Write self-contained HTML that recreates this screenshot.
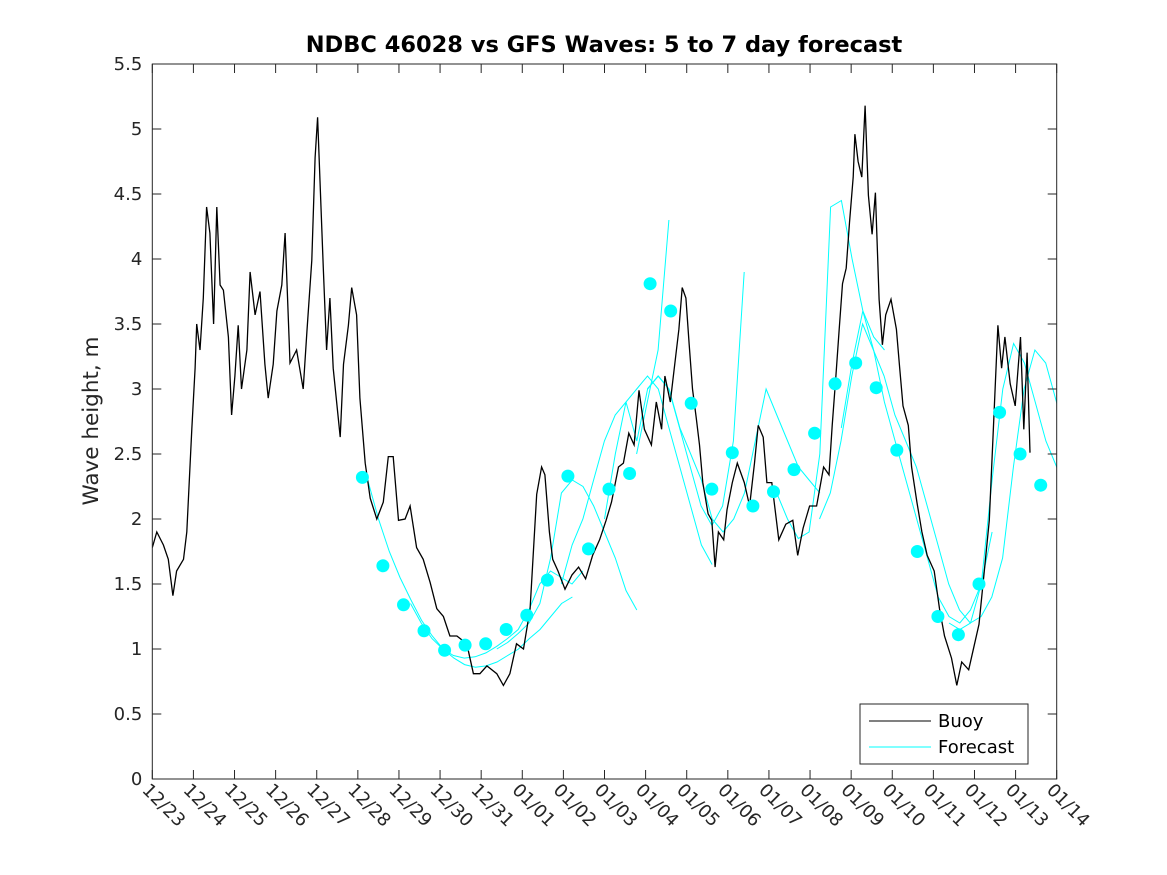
<!DOCTYPE html>
<html><head><meta charset="utf-8">
<style>
html,body{margin:0;padding:0;background:#fff;}
svg{display:block;font-family:"DejaVu Sans","Liberation Sans",sans-serif;}
</style></head>
<body>
<svg id="chart" width="1167" height="875" viewBox="0 0 1167 875" xmlns="http://www.w3.org/2000/svg">
<rect width="1167" height="875" fill="#fff"/>
<text x="604" y="52" text-anchor="middle" font-size="22.5" font-weight="bold" fill="#000">NDBC 46028 vs GFS Waves: 5 to 7 day forecast</text>
<text transform="translate(98,421) rotate(-90)" text-anchor="middle" font-size="21.5" fill="#262626">Wave height, m</text>
<g id="plot"></g>
<g>
<rect x="860" y="704" width="168" height="60" fill="#fff" stroke="#262626" stroke-width="1"/>
<line x1="869" y1="721" x2="931" y2="721" stroke="#000" stroke-width="1"/>
<text x="938" y="727" font-size="18" fill="#000">Buoy</text>
<line x1="869" y1="747" x2="931" y2="747" stroke="#00ffff" stroke-width="1"/>
<text x="938" y="753" font-size="18" fill="#000">Forecast</text>
</g>
</svg>
<script>
const xTickLabels = ["12/23","12/24","12/25","12/26","12/27","12/28","12/29","12/30","12/31","01/01","01/02","01/03","01/04","01/05","01/06","01/07","01/08","01/09","01/10","01/11","01/12","01/13","01/14"];
const yTicks = [0,0.5,1,1.5,2,2.5,3,3.5,4,4.5,5,5.5];
const yTickLabels = ["0","0.5","1","1.5","2","2.5","3","3.5","4","4.5","5","5.5"];
const buoyDays = [0,0.11,0.27,0.39,0.50,0.59,0.76,0.84,0.96,1.04,1.08,1.16,1.24,1.32,1.40,1.49,1.57,1.65,1.73,1.85,1.93,2.01,2.09,2.17,2.30,2.38,2.50,2.62,2.74,2.82,2.94,3.03,3.15,3.23,3.35,3.51,3.67,3.76,3.88,3.96,4.02,4.08,4.16,4.24,4.32,4.40,4.57,4.65,4.77,4.85,4.97,5.05,5.18,5.30,5.46,5.62,5.74,5.86,5.99,6.15,6.27,6.43,6.59,6.76,6.92,7.08,7.24,7.41,7.65,7.81,7.97,8.14,8.38,8.54,8.70,8.86,9.03,9.19,9.35,9.47,9.55,9.66,9.74,9.87,10.04,10.21,10.37,10.54,10.71,10.88,11.04,11.17,11.34,11.46,11.59,11.72,11.84,11.97,12.14,12.26,12.39,12.47,12.60,12.72,12.81,12.89,12.98,13.06,13.14,13.23,13.31,13.39,13.52,13.61,13.69,13.77,13.90,13.98,14.11,14.23,14.40,14.53,14.65,14.74,14.86,14.95,15.07,15.24,15.41,15.58,15.70,15.83,15.99,16.16,16.33,16.46,16.54,16.63,16.71,16.79,16.88,16.96,17.05,17.09,17.17,17.26,17.34,17.42,17.51,17.59,17.68,17.76,17.84,17.97,18.10,18.18,18.26,18.39,18.47,18.60,18.72,18.85,19.02,19.15,19.27,19.44,19.57,19.69,19.86,19.98,20.11,20.24,20.36,20.45,20.57,20.66,20.74,20.87,20.99,21.12,21.20,21.28,21.35];
const buoyValues = [1.78,1.9,1.8,1.69,1.41,1.6,1.69,1.9,2.69,3.16,3.5,3.3,3.7,4.4,4.2,3.5,4.4,3.8,3.76,3.4,2.8,3.1,3.49,3.0,3.3,3.9,3.57,3.75,3.19,2.93,3.19,3.6,3.8,4.2,3.2,3.3,3.0,3.44,3.99,4.78,5.09,4.6,3.93,3.3,3.7,3.16,2.63,3.19,3.49,3.78,3.57,2.93,2.43,2.16,2.0,2.13,2.48,2.48,1.99,2.0,2.1,1.78,1.69,1.51,1.31,1.25,1.1,1.1,1.04,0.81,0.81,0.87,0.81,0.72,0.81,1.04,1.0,1.31,2.19,2.4,2.34,1.9,1.69,1.6,1.46,1.57,1.63,1.54,1.72,1.84,1.99,2.13,2.4,2.43,2.66,2.57,2.99,2.69,2.57,2.9,2.69,3.1,2.9,3.22,3.46,3.78,3.7,3.34,3.0,2.78,2.57,2.28,2.04,1.99,1.63,1.9,1.84,2.07,2.28,2.43,2.28,2.1,2.43,2.72,2.63,2.28,2.28,1.84,1.96,1.99,1.72,1.93,2.1,2.1,2.4,2.34,2.72,3.1,3.46,3.81,3.93,4.28,4.63,4.96,4.75,4.63,5.18,4.49,4.19,4.51,3.69,3.34,3.57,3.69,3.46,3.16,2.87,2.72,2.4,2.13,1.9,1.72,1.6,1.31,1.1,0.93,0.72,0.9,0.84,1.01,1.19,1.6,1.99,2.63,3.49,3.16,3.4,3.04,2.87,3.4,2.69,3.28,2.51];
const dotStart = 5.11;
const dotStep = 0.5;
const dotValues = [2.32,1.64,1.34,1.14,0.99,1.03,1.04,1.15,1.26,1.53,2.33,1.77,2.23,2.35,3.81,3.6,2.89,2.23,2.51,2.10,2.21,2.38,2.66,3.04,3.20,3.01,2.53,1.75,1.25,1.11,1.50,2.82,2.50,2.26];
const fcStep = 0.262;
const fc1Start = 5.24, fc1 = [2.3,2.0,1.75,1.55,1.38,1.22,1.1,1.0,0.93,0.88,0.86,0.87,0.9,0.95,1.0,1.08,1.15,1.25,1.35,1.4];
const fc2Start = 6.28, fc2 = [1.35,1.2,1.08,1.0,0.95,0.93,0.94,0.97,1.02,1.08,1.15,1.3,1.5,1.6,1.55,1.5,1.6];
const fc3Start = 8.38, fc3 = [1.0,1.05,1.12,1.2,1.35,1.7,2.2,2.3,2.25,2.1,1.9,1.7,1.45,1.3];
const fc4Start = 9.95, fc4 = [1.5,1.8,2.0,2.3,2.6,2.8,2.9,3.0,3.1,3.0,2.7,2.4,2.1,1.8,1.65];
const fc5Start = 11.0, fc5 = [2.0,2.5,2.9,2.6,3.0,3.1,3.0,2.7,2.5,2.3,2.0,1.9,2.0,2.2,2.6,3.0,2.8,2.6,2.4,2.3,2.2];
const fc6Start = 12.04, fc6 = [3.0,3.1,3.0,2.7,2.4,2.1,1.95,2.1,2.6,3.9];
const fc7Start = 11.78, fc7 = [2.5,2.9,3.3,4.3];
const fc8Start = 15.19, fc8 = [2.2,2.0,1.85,1.9,2.5,4.4,4.45,4.0,3.6,3.4,3.3];
const fc9Start = 16.23, fc9 = [2.0,2.2,2.6,3.1,3.5,3.3,3.1,2.8,2.6,2.4,2.1,1.8,1.5,1.3,1.2,1.25,1.4,1.7,2.4,3.0,3.3,3.2,2.9,2.6,2.4,2.2,2.1,2.0,1.95];
const fc10Start = 16.76, fc10 = [2.7,3.2,3.6,3.3,2.9,2.6,2.3,2.0,1.7,1.4,1.25,1.2,1.3,1.5,1.9];
const fc11Start = 19.38, fc11 = [1.2,1.15,1.2,1.5,2.3,3.0,3.35,3.2,2.9,2.6,2.4,2.2,2.1,2.0];

const NS = "http://www.w3.org/2000/svg";
const L = 152.3, R = 1056.7, T = 64, B = 779;
const xMax = xTickLabels.length - 1, yMax = 5.5;
function xs(d){ return L + (R - L) * d / xMax; }
function ys(v){ return B - (B - T) * v / yMax; }
const plot = document.getElementById('plot');
function mk(tag, attrs){ const e = document.createElementNS(NS, tag); for (const k in attrs) e.setAttribute(k, attrs[k]); plot.appendChild(e); return e; }

const clip = document.createElementNS(NS,'clipPath'); clip.setAttribute('id','pc');
const cr = document.createElementNS(NS,'rect'); cr.setAttribute('x',L); cr.setAttribute('y',T); cr.setAttribute('width',R-L); cr.setAttribute('height',B-T);
clip.appendChild(cr); plot.appendChild(clip);

function series(start, step, vals, color, w, name){
  let d = '';
  vals.forEach((v,i)=>{ d += (i?'L':'M') + xs(start + i*step).toFixed(1) + ' ' + ys(v).toFixed(1); });
  const p = mk('path', {d:d, fill:'none', stroke:color, 'stroke-width':w, 'clip-path':'url(#pc)'});
  
  
}
series(fc1Start, fcStep, fc1, '#00ffff', 1, 'forecast-line-1');
series(fc2Start, fcStep, fc2, '#00ffff', 1, 'forecast-line-2');
series(fc3Start, fcStep, fc3, '#00ffff', 1, 'forecast-line-3');
series(fc4Start, fcStep, fc4, '#00ffff', 1, 'forecast-line-4');
series(fc5Start, fcStep, fc5, '#00ffff', 1, 'forecast-line-5');
series(fc6Start, fcStep, fc6, '#00ffff', 1, 'forecast-line-6');
series(fc7Start, fcStep, fc7, '#00ffff', 1, 'forecast-line-7');
series(fc8Start, fcStep, fc8, '#00ffff', 1, 'forecast-line-8');
series(fc9Start, fcStep, fc9, '#00ffff', 1, 'forecast-line-9');
series(fc10Start, fcStep, fc10, '#00ffff', 1, 'forecast-line-10');
series(fc11Start, fcStep, fc11, '#00ffff', 1, 'forecast-line-11');

let bd = '';
buoyDays.forEach((t,i)=>{ bd += (i?'L':'M') + xs(t).toFixed(1) + ' ' + ys(buoyValues[i]).toFixed(1); });
const bp = mk('path', {d:bd, fill:'none', stroke:'#000', 'stroke-width':1.3, 'clip-path':'url(#pc)'});



dotValues.forEach((v,i)=>{
  const c = mk('circle', {cx:xs(dotStart + i*dotStep).toFixed(1), cy:ys(v).toFixed(1), r:6.5, fill:'#00ffff'});
  
  
});

const frame = mk('rect', {x:L, y:T, width:R-L, height:B-T, fill:'none', stroke:'#262626', 'stroke-width':1});



xTickLabels.forEach((lab,i)=>{
  const x = xs(i);
  mk('line', {x1:x, y1:B, x2:x, y2:B-9, stroke:'#262626'});
  mk('line', {x1:x, y1:T, x2:x, y2:T+9, stroke:'#262626'});
  const t = mk('text', {x:0, y:0, transform:'translate('+(x-11)+','+(B+12)+') rotate(45)', 'font-size':18, fill:'#262626'});
  t.textContent = lab;
  
  
});
yTicks.forEach((v,i)=>{
  const y = ys(v);
  mk('line', {x1:L, y1:y, x2:L+9, y2:y, stroke:'#262626'});
  mk('line', {x1:R, y1:y, x2:R-9, y2:y, stroke:'#262626'});
  const t = mk('text', {x:L-10, y:y+6, 'text-anchor':'end', 'font-size':18, fill:'#262626'});
  t.textContent = yTickLabels[i];
  
  
});
</script>
</body></html>
